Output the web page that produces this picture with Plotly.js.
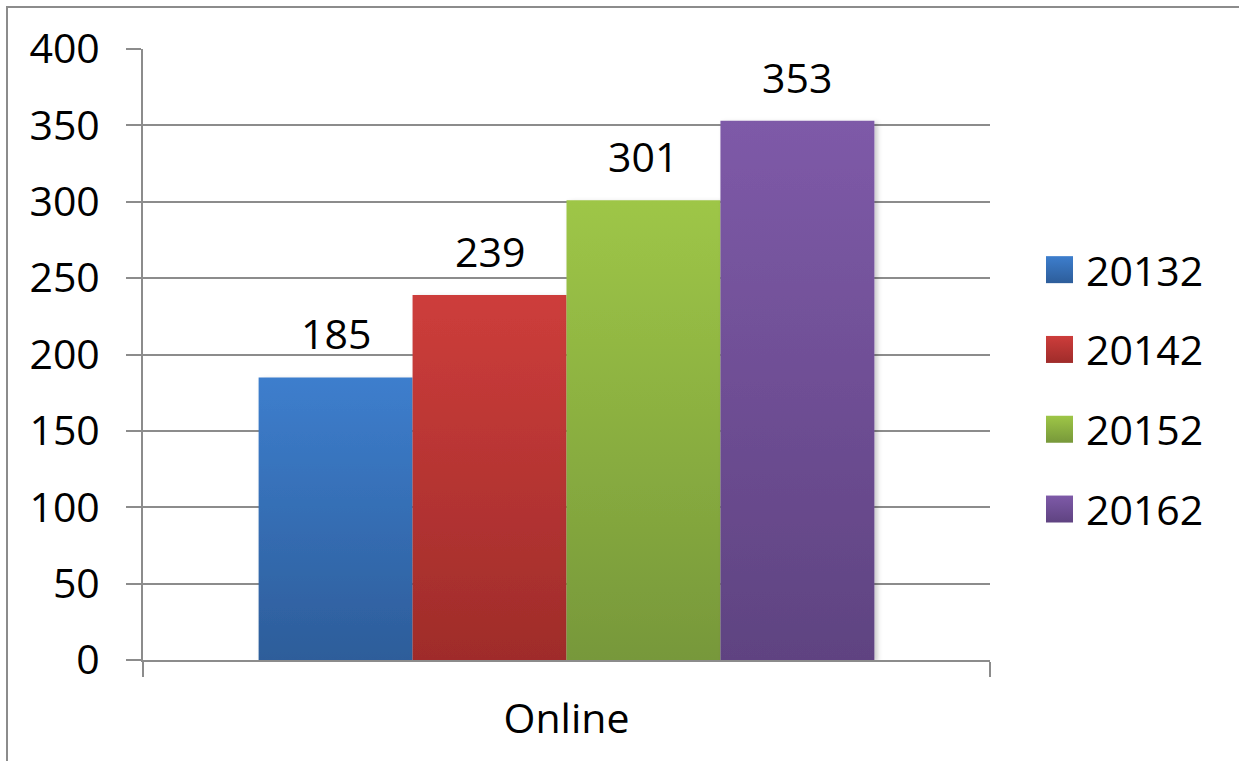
<!DOCTYPE html>
<html>
<head>
<meta charset="utf-8">
<script src="https://cdn.plot.ly/plotly-3.0.1.min.js"></script>
<style>
  html, body { margin:0; padding:0; background:#fff; }
  #wrap { position:relative; width:1239px; height:761px; overflow:hidden; }
  #chart { position:absolute; left:0; top:0; width:1239px; height:761px; }
  #frame { position:absolute; left:6px; top:6px; width:1300px; height:820px;
           border:2px solid #8c8c8c; box-sizing:border-box; pointer-events:none; }
</style>
</head>
<body>
<div id="wrap">
  <div id="chart"></div>
  <div id="frame"></div>
</div>
<script>
// ---- data ----
const categories = ['Online'];
const seriesNames = ['20132', '20142', '20152', '20162'];
const seriesValues = [185, 239, 301, 353];
const yTickVals = [0, 50, 100, 150, 200, 250, 300, 350, 400];
const yTickText = ['0', '50', '100', '150', '200', '250', '300', '350', '400'];
// ---- colours (top / bottom of gradient) ----
const topColors = ['#3d7ecd', '#cd3d3b', '#9ec647', '#7e5aa8'];
const bottomColors = ['#2d5d9a', '#9f2c2a', '#77983a', '#5f4381'];
const midColors = ['#356eb4', '#b63533', '#8bb040', '#6e4f95'];

const FONT = '"Open Sans", "Liberation Sans", sans-serif';
const FS = 41;
const GRID = '#8c8c8c';
const bargap = 0.273;

const data = seriesNames.map((name, i) => ({
  type: 'bar',
  name: name,
  x: categories,
  y: [seriesValues[i]],
  marker: { color: midColors[i], line: { width: 0 } },
  legendgroup: 'g' + i,
  hoverinfo: 'skip'
}));

// data labels placed above each bar of the group
const nS = seriesNames.length;
const barW = (1 - bargap) / nS;
const annotations = seriesValues.map((v, i) => ({
  xref: 'x', yref: 'y',
  x: -(1 - bargap) / 2 + barW * (i + 0.5),
  y: v,
  text: String(v),
  showarrow: false,
  xanchor: 'center', yanchor: 'bottom',
  yshift: 14,
  font: { family: FONT, size: FS, color: '#000' }
}));

const layout = {
  width: 1239, height: 761,
  margin: { l: 143, r: 249, t: 49, b: 101, pad: 0 },
  paper_bgcolor: 'rgba(0,0,0,0)',
  plot_bgcolor: 'rgba(0,0,0,0)',
  font: { family: FONT, size: FS, color: '#000' },
  barmode: 'group',
  bargap: bargap,
  bargroupgap: 0,
  showlegend: true,
  legend: {
    xref: 'container', yref: 'container',
    x: 1033 / 1239, y: 1 - 389.5 / 761,
    xanchor: 'left', yanchor: 'middle',
    font: { family: FONT, size: FS, color: '#000' },
    itemwidth: 43,
    tracegroupgap: 23.5,
    bgcolor: 'rgba(0,0,0,0)',
    borderwidth: 0
  },
  xaxis: {
    type: 'category',
    showline: true, linecolor: GRID, linewidth: 2,
    ticks: 'outside', tickson: 'boundaries', ticklen: 15, tickwidth: 2, tickcolor: GRID,
    showgrid: false, zeroline: false,
    tickfont: { family: FONT, size: FS, color: '#000' },
    ticklabelstandoff: 22,
    fixedrange: true
  },
  yaxis: {
    range: [0, 400], autorange: false,
    tickmode: 'array', tickvals: yTickVals, ticktext: yTickText,
    showline: true, linecolor: GRID, linewidth: 2,
    ticks: 'outside', ticklen: 15, tickwidth: 2, tickcolor: GRID,
    showgrid: true, gridcolor: GRID, gridwidth: 2,
    zeroline: false,
    tickfont: { family: FONT, size: FS, color: '#000' },
    ticklabelstandoff: 18,
    fixedrange: true
  },
  annotations: annotations
};

const gd = document.getElementById('chart');
Plotly.newPlot(gd, data, layout, { staticPlot: true, displayModeBar: false }).then(function () {
  const NS = 'http://www.w3.org/2000/svg';
  const svg = gd.querySelector('svg.main-svg');
  let defs = svg.querySelector('defs');
  if (!defs) { defs = document.createElementNS(NS, 'defs'); svg.insertBefore(defs, svg.firstChild); }
  topColors.forEach((c, i) => {
    const lg = document.createElementNS(NS, 'linearGradient');
    lg.setAttribute('id', 'barGrad' + i);
    lg.setAttribute('x1', '0'); lg.setAttribute('y1', '0');
    lg.setAttribute('x2', '0'); lg.setAttribute('y2', '1');
    const s1 = document.createElementNS(NS, 'stop');
    s1.setAttribute('offset', '0'); s1.setAttribute('stop-color', c);
    const s2 = document.createElementNS(NS, 'stop');
    s2.setAttribute('offset', '1'); s2.setAttribute('stop-color', bottomColors[i]);
    lg.appendChild(s1); lg.appendChild(s2);
    defs.appendChild(lg);
  });
  const flt = document.createElementNS(NS, 'filter');
  flt.setAttribute('id', 'barShadow');
  flt.setAttribute('x', '-10%'); flt.setAttribute('y', '-10%');
  flt.setAttribute('width', '125%'); flt.setAttribute('height', '125%');
  const ds = document.createElementNS(NS, 'feDropShadow');
  ds.setAttribute('dx', '3'); ds.setAttribute('dy', '2');
  ds.setAttribute('stdDeviation', '2.5');
  ds.setAttribute('flood-color', '#000'); ds.setAttribute('flood-opacity', '0.22');
  flt.appendChild(ds);
  defs.appendChild(flt);

  gd.querySelectorAll('.barlayer .trace').forEach((tr, i) => {
    tr.querySelectorAll('.point path').forEach(p => {
      p.style.fill = 'url(#barGrad' + i + ')';
      p.setAttribute('filter', 'url(#barShadow)');
    });
  });
  gd.querySelectorAll('.legend .traces').forEach((tr, i) => {
    tr.querySelectorAll('.legendpoints path').forEach(p => {
      p.setAttribute('d', 'M13.5,13.5H-13.5V-13.5H13.5Z');
      p.style.fill = 'url(#barGrad' + i + ')';
      p.style.stroke = 'none';
    });
  });
});
</script>
</body>
</html>
